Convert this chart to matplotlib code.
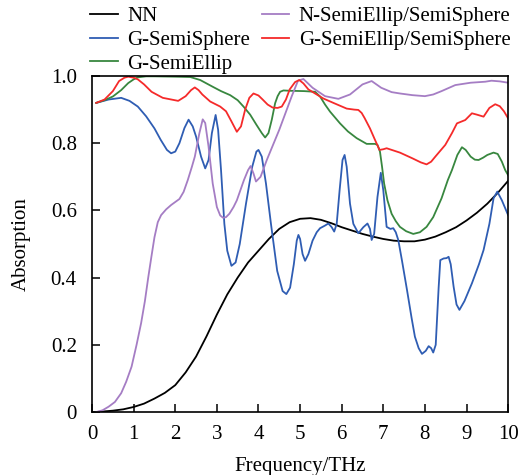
import numpy as np
import matplotlib
matplotlib.use("Agg")
import matplotlib.pyplot as plt

plt.rcParams['font.family'] = ['Liberation Serif', 'DejaVu Serif']
plt.rcParams['font.size'] = 15

# values (frequency in THz, absorption)
nn_f = [0.1, 0.5, 0.75, 1.0, 1.25, 1.5, 1.75, 2.0, 2.25, 2.5, 2.75, 3.0,
        3.25, 3.5, 3.75, 4.0, 4.25, 4.5, 4.75, 5.0, 5.25, 5.5, 5.75, 6.0,
        6.25, 6.5, 6.75, 7.0, 7.25, 7.5, 7.75, 8.0, 8.25, 8.5, 8.75, 9.0,
        9.25, 9.5, 9.75, 10.0]
nn_a = [0.0, 0.004, 0.008, 0.015, 0.025, 0.04, 0.057, 0.08, 0.118, 0.165,
        0.225, 0.29, 0.35, 0.40, 0.445, 0.48, 0.515, 0.545, 0.565, 0.575,
        0.577, 0.572, 0.562, 0.55, 0.54, 0.53, 0.522, 0.515, 0.51, 0.508,
        0.508, 0.513, 0.522, 0.535, 0.55, 0.57, 0.593, 0.62, 0.652, 0.688]

gs_f = [0.1, 0.4, 0.7, 0.9, 1.1, 1.3, 1.5, 1.65, 1.8, 1.9, 2.0, 2.1, 2.22,
        2.32, 2.42, 2.5, 2.62, 2.72, 2.8, 2.88, 2.97, 3.03, 3.1, 3.18, 3.25,
        3.35, 3.45, 3.55, 3.7, 3.85, 3.95, 4.0, 4.08, 4.18, 4.3, 4.45, 4.58,
        4.67, 4.76, 4.85, 4.92, 4.96, 5.0, 5.06, 5.12, 5.2, 5.3, 5.4, 5.48,
        5.6, 5.68, 5.76, 5.82, 5.88, 5.95, 6.02, 6.07, 6.12, 6.2, 6.28, 6.4,
        6.52, 6.62, 6.68, 6.72, 6.78, 6.86, 6.94, 7.0, 7.08, 7.17, 7.24,
        7.3, 7.36, 7.45, 7.57, 7.68, 7.76, 7.85, 7.93, 8.02, 8.09, 8.15, 8.2,
        8.26, 8.33, 8.37, 8.45, 8.52, 8.57, 8.62, 8.69, 8.76, 8.83, 8.95,
        9.13, 9.3, 9.41, 9.55, 9.65, 9.74, 9.85, 10.0]
gs_a = [0.92, 0.93, 0.935, 0.926, 0.909, 0.88, 0.844, 0.81, 0.78, 0.77, 0.775,
        0.80, 0.845, 0.87, 0.85, 0.82, 0.76, 0.725, 0.75, 0.83, 0.884, 0.84,
        0.72, 0.56, 0.48, 0.435, 0.445, 0.50, 0.62, 0.73, 0.775, 0.78, 0.76,
        0.68, 0.56, 0.42, 0.36, 0.351, 0.37, 0.44, 0.51, 0.527, 0.515, 0.47,
        0.45, 0.47, 0.51, 0.535, 0.547, 0.555, 0.561, 0.55, 0.537, 0.56,
        0.66, 0.75, 0.765, 0.73, 0.62, 0.56, 0.532, 0.55, 0.561, 0.545, 0.512,
        0.53, 0.64, 0.712, 0.66, 0.551, 0.545, 0.547, 0.535, 0.512, 0.45,
        0.363, 0.28, 0.224, 0.19, 0.173, 0.182, 0.196, 0.19, 0.177, 0.2,
        0.37, 0.452, 0.457, 0.458, 0.462, 0.44, 0.373, 0.32, 0.304, 0.33,
        0.383, 0.44, 0.482, 0.56, 0.636, 0.656, 0.63, 0.586]

ge_f = [0.1, 0.3, 0.5, 0.7, 0.87, 1.0, 1.1, 1.3, 1.5, 2.0, 2.36, 2.6, 2.9,
        3.1, 3.32, 3.5, 3.64, 3.8, 3.95, 4.08, 4.16, 4.24, 4.32, 4.4, 4.46,
        4.52, 4.6, 4.76, 5.1, 5.36, 5.48, 5.6, 5.72, 5.96, 6.15, 6.36, 6.6,
        6.8, 6.86, 6.92, 6.97, 7.02, 7.1, 7.2, 7.3, 7.4, 7.55, 7.72, 7.88,
        8.04, 8.2, 8.4, 8.55, 8.65, 8.78, 8.89, 8.98, 9.1, 9.2, 9.29, 9.4,
        9.5, 9.65, 9.75, 9.85, 9.93, 10.0]
ge_a = [0.92, 0.928, 0.939, 0.958, 0.979, 0.99, 0.996, 0.999, 0.999, 0.998,
        0.997, 0.988, 0.968, 0.955, 0.943, 0.928, 0.909, 0.885, 0.855, 0.83,
        0.817, 0.83, 0.87, 0.919, 0.94, 0.953, 0.957, 0.956, 0.955, 0.953,
        0.939, 0.915, 0.894, 0.859, 0.835, 0.815, 0.798, 0.798, 0.795, 0.775,
        0.73, 0.68, 0.63, 0.59, 0.568, 0.551, 0.538, 0.53, 0.535, 0.551,
        0.58, 0.636, 0.69, 0.72, 0.765, 0.788, 0.78, 0.76, 0.751, 0.75,
        0.757, 0.765, 0.772, 0.768, 0.745, 0.72, 0.705]

nes_f = [0.1, 0.25, 0.4, 0.55, 0.7, 0.82, 0.95, 1.07, 1.18, 1.27, 1.35, 1.43,
         1.5, 1.58, 1.66, 1.78, 1.9, 2.0, 2.1, 2.2, 2.3, 2.4, 2.47, 2.58,
         2.66, 2.72, 2.8, 2.9, 3.0, 3.08, 3.15, 3.22, 3.3, 3.4, 3.48, 3.65,
         3.75, 3.81, 3.88, 3.94, 4.05, 4.2, 4.5, 4.8, 4.95, 5.08, 5.3, 5.6,
         5.92, 6.2, 6.5, 6.72, 6.95, 7.2, 7.4, 7.7, 8.0, 8.2, 8.4, 8.73, 9.1,
         9.45, 9.6, 9.8, 10.0]
nes_a = [0.0, 0.005, 0.016, 0.03, 0.056, 0.09, 0.135, 0.2, 0.265, 0.33, 0.40,
         0.465, 0.52, 0.565, 0.586, 0.603, 0.616, 0.625, 0.634, 0.655, 0.69,
         0.73, 0.76, 0.83, 0.871, 0.86, 0.79, 0.68, 0.61, 0.585, 0.578, 0.58,
         0.59, 0.61, 0.63, 0.69, 0.72, 0.732, 0.71, 0.686, 0.70, 0.75, 0.84,
         0.94, 0.986, 0.991, 0.965, 0.94, 0.932, 0.945, 0.975, 0.985, 0.965,
         0.952, 0.948, 0.943, 0.94, 0.945, 0.955, 0.973, 0.98, 0.983, 0.986,
         0.984, 0.98]

ges_f = [0.1, 0.3, 0.5, 0.65, 0.78, 0.87, 1.0, 1.1, 1.25, 1.43, 1.7, 2.07,
         2.25, 2.38, 2.47, 2.56, 2.65, 2.84, 3.08, 3.22, 3.35, 3.48, 3.58,
         3.68, 3.78, 3.88, 4.0, 4.1, 4.22, 4.34, 4.46, 4.56, 4.66, 4.75,
         4.88, 4.98, 5.08, 5.2, 5.4, 5.56, 5.8, 6.12, 6.3, 6.4, 6.48, 6.55,
         6.68, 6.8, 6.91, 7.0, 7.08, 7.4, 7.7, 7.9, 8.04, 8.15, 8.25, 8.49,
         8.65, 8.77, 8.97, 9.13, 9.25, 9.41, 9.55, 9.69, 9.8, 9.9, 10.0]
ges_a = [0.92, 0.93, 0.955, 0.985, 0.995, 0.998, 0.995, 0.99, 0.975, 0.953,
         0.935, 0.926, 0.94, 0.958, 0.966, 0.958, 0.945, 0.924, 0.909, 0.895,
         0.865, 0.834, 0.85, 0.9, 0.935, 0.948, 0.942, 0.93, 0.915, 0.906,
         0.905, 0.909, 0.93, 0.96, 0.982, 0.988, 0.978, 0.96, 0.945, 0.933,
         0.92, 0.903, 0.9, 0.899, 0.89, 0.875, 0.844, 0.81, 0.78, 0.782,
         0.785, 0.772, 0.755, 0.743, 0.737, 0.745, 0.76, 0.795, 0.83, 0.859,
         0.869, 0.889, 0.885, 0.879, 0.905, 0.916, 0.91, 0.895, 0.874]

fig = plt.figure(figsize=(5.26, 4.75), dpi=100)
ax = fig.add_axes([0.175, 0.1326, 0.791, 0.7074])

lw = 1.3
ax.plot(nn_f, nn_a, color='black', lw=lw, label='NN')
ax.plot(gs_f, gs_a, color='#2f5db3', lw=lw, label='G-SemiSphere')
ax.plot(ge_f, ge_a, color='#38873f', lw=lw, label='G-SemiEllip')
ax.plot(nes_f, nes_a, color='#a57dc4', lw=lw, label='N-SemiEllip/SemiSphere')
ax.plot(ges_f, ges_a, color='#f52a2a', lw=lw, label='G-SemiEllip/SemiSphere')

ax.set_xlim(0, 10)
ax.set_ylim(0, 1.0)
ax.set_xticks(range(0, 11))
ax.set_yticks([0, 0.2, 0.4, 0.6, 0.8, 1.0])
ax.set_yticklabels(['0', '0.2', '0.4', '0.6', '0.8', '1.0'])
ax.tick_params(direction='in', length=6, width=1.1, top=False, right=False)
ax.tick_params(axis='x', pad=9)
ax.tick_params(axis='y', pad=11)
for s in ax.spines.values():
    s.set_linewidth(1.2)

ax.set_xlabel('Frequency/THz', labelpad=10)
ax.set_ylabel('Absorption', labelpad=14)

fig.legend(loc='upper left', bbox_to_anchor=(0.172, 0.986), ncol=2,
           frameon=False, borderpad=0, borderaxespad=0, handlelength=1.3,
           handletextpad=0.45, columnspacing=0.6, labelspacing=0.2)

fig.savefig('out.png', dpi=100)
